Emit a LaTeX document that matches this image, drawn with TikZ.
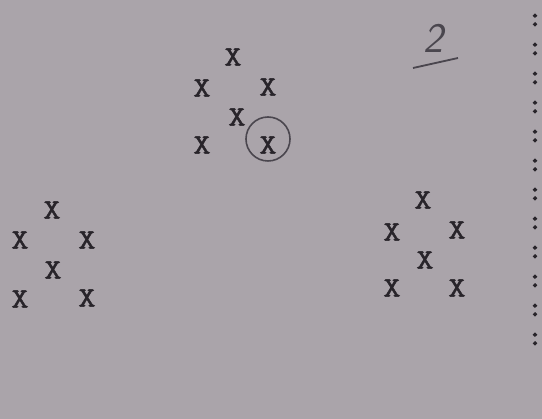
\documentclass[tikz,border=0pt]{standalone}
\usepackage{xcolor}
\usepackage{fontspec}
\usepackage{tikz}
\usetikzlibrary{positioning, calc}

\newfontfamily\typewriter{Latin Modern Mono}[FakeBold=1.6]
\newfontfamily\typedots{Latin Modern Mono}[FakeBold=4]

\definecolor{paper}{RGB}{170,164,170}
\definecolor{ink}{RGB}{40,36,42}
\definecolor{pencil}{RGB}{74,70,78}

\tikzset{
  typed/.style={text=ink, inner sep=0pt, xscale=1.2, font=\fontsize{28}{28}\selectfont\typewriter},
  dots/.style={text=ink, inner sep=0pt, font=\fontsize{27}{27}\selectfont\typedots}
}

\begin{document}
\begin{tikzpicture}[x=1pt, y=-1pt]
\fill[paper] (0,0) rectangle (542,419);
\useasboundingbox (0,0) rectangle (542,419);

% Upper group
\node[typed] (u1) at (233,57) {X};
\node[typed] (u2) at (202,88) {X};
\node[typed] (u3) at (268,87) {X};
\node[typed] (u4) at (237,117) {X};
\node[typed] (u5) at (202,145) {X};
\node[typed] (u6) at (268,145) {X};
\draw[pencil, line width=1.6pt] ($(u6)+(0,-6)$) circle (22);

% Left group
\node[typed] (l1) at (52,210) {X};
\node[typed] (l2) at (20,240) {X};
\node[typed] (l3) at (87,240) {X};
\node[typed] (l4) at (53,270) {X};
\node[typed] (l5) at (20,299) {X};
\node[typed] (l6) at (87,298) {X};

% Right group
\node[typed] (r1) at (423,200) {X};
\node[typed] (r2) at (392,232) {X};
\node[typed] (r3) at (457,230) {X};
\node[typed] (r4) at (425,260) {X};
\node[typed] (r5) at (392,288) {X};
\node[typed] (r6) at (457,288) {X};

% Page number
\node[text=pencil, font=\fontsize{42}{42}\selectfont\sffamily\itshape] (pg) at (433,38) {2};
\draw[pencil, line width=1.8pt] (413,68) -- (458,58);

% Margin of colons
\foreach \k in {0,...,11}
  \node[dots] (c\k) at (535,20+29*\k) {:};
\end{tikzpicture}
\end{document}
